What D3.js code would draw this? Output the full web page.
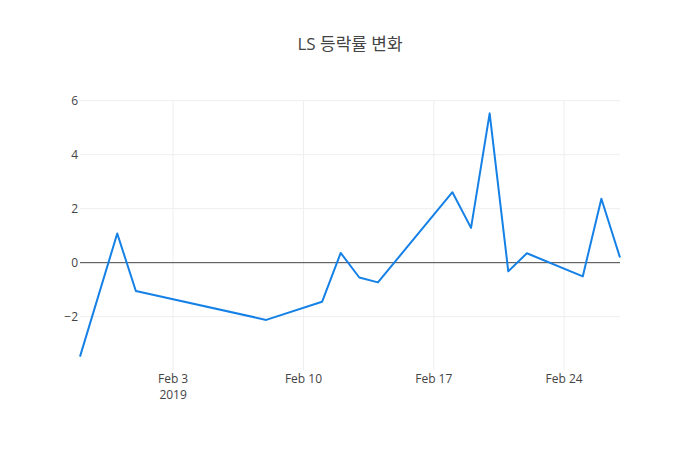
<!DOCTYPE html>
<html>
<head>
<meta charset="utf-8">
<script src="https://cdn.jsdelivr.net/npm/d3@7"></script>
<style>
  body { margin: 0; background: #fff; }
  text { font-family: "Open Sans", "Noto Sans CJK KR", sans-serif; }
</style>
</head>
<body>
<div id="chart"></div>
<script>
(function() {

const w = 700;
const h = 450;
const margin = {top: 100, right: 80, bottom: 80, left: 80};

// data
const dates = ["2019-01-29", "2019-01-31", "2019-02-01", "2019-02-08", "2019-02-11",
    "2019-02-12", "2019-02-13", "2019-02-14", "2019-02-18", "2019-02-19",
    "2019-02-20", "2019-02-21", "2019-02-22", "2019-02-25", "2019-02-26", "2019-02-27"];
const changes = [-3.48, 1.08, -1.05, -2.12, -1.45, 0.36, -0.55, -0.73, 2.61, 1.29,
    5.53, -0.32, 0.35, -0.51, 2.37, 0.19];
const yTicks = [-2, 0, 2, 4, 6];
const xTicks = ["2019-02-03", "2019-02-10", "2019-02-17", "2019-02-24"];
const title = "LS 등락률 변화";

const parseDate = d3.timeParse("%Y-%m-%d");

const dataset = dates.map(function(d, i) {
    return {date: parseDate(d), value: changes[i]};
});

const xScale = d3.scaleTime()
    .domain(d3.extent(dataset, function(d) { return d.date; }))
    .range([margin.left, w - margin.right]);

const yExtent = d3.extent(changes);
const yPad = (yExtent[1] - yExtent[0]) * 0.055;
const yScale = d3.scaleLinear()
    .domain([yExtent[0] - yPad, yExtent[1] + yPad])
    .range([h - margin.bottom, margin.top]);

const svg = d3.select("#chart")
    .append("svg")
    .attr("width", w)
    .attr("height", h);

// gridlines
svg.append("g")
    .selectAll("line")
    .data(xTicks.map(parseDate))
    .enter()
    .append("line")
    .attr("x1", function(d) { return xScale(d); })
    .attr("x2", function(d) { return xScale(d); })
    .attr("y1", margin.top)
    .attr("y2", h - margin.bottom)
    .attr("stroke", "#eee")
    .attr("stroke-width", 1);

svg.append("g")
    .selectAll("line")
    .data(yTicks.filter(function(d) { return d != 0; }))
    .enter()
    .append("line")
    .attr("x1", margin.left)
    .attr("x2", w - margin.right)
    .attr("y1", function(d) { return yScale(d); })
    .attr("y2", function(d) { return yScale(d); })
    .attr("stroke", "#eee")
    .attr("stroke-width", 1);

// zero line
svg.append("line")
    .attr("x1", margin.left)
    .attr("x2", w - margin.right)
    .attr("y1", yScale(0))
    .attr("y2", yScale(0))
    .attr("stroke", "#444")
    .attr("stroke-width", 1);

// y tick labels
svg.append("g")
    .selectAll("text")
    .data(yTicks)
    .enter()
    .append("text")
    .attr("x", margin.left - 2)
    .attr("y", function(d) { return yScale(d); })
    .attr("dy", "0.35em")
    .attr("text-anchor", "end")
    .attr("font-size", 12)
    .attr("fill", "#444")
    .text(function(d) { return d < 0 ? "\u2212" + Math.abs(d) : d; });

// x tick labels
const fmt = d3.timeFormat("%b %-d");
const xLabels = svg.append("g")
    .selectAll("text")
    .data(xTicks.map(parseDate))
    .enter()
    .append("text")
    .attr("x", function(d) { return xScale(d); })
    .attr("y", h - margin.bottom + 13)
    .attr("text-anchor", "middle")
    .attr("font-size", 12)
    .attr("fill", "#444");

xLabels.append("tspan")
    .attr("x", function(d) { return xScale(d); })
    .text(function(d) { return fmt(d); });

xLabels.filter(function(d, i) { return i == 0; })
    .append("tspan")
    .attr("x", function(d) { return xScale(d); })
    .attr("dy", "1.3em")
    .text(function(d) { return d.getFullYear(); });

// the line
const line = d3.line()
    .x(function(d) { return xScale(d.date); })
    .y(function(d) { return yScale(d.value); });

svg.append("path")
    .datum(dataset)
    .attr("d", line)
    .attr("fill", "none")
    .attr("stroke", "#1581e6")
    .attr("stroke-width", 2)
    .attr("stroke-linejoin", "round");

// title
svg.append("text")
    .attr("x", w / 2)
    .attr("y", 50)
    .attr("text-anchor", "middle")
    .attr("font-size", 17)
    .attr("fill", "#444")
    .text(title);

})();
</script>
</body>
</html>
